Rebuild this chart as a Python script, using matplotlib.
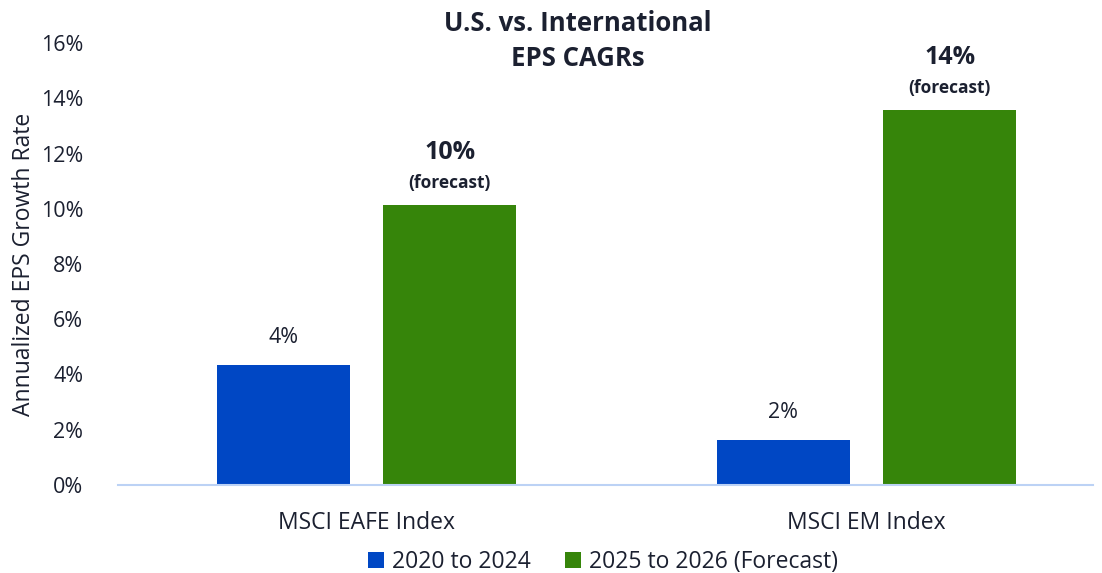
import matplotlib
matplotlib.use("Agg")
import matplotlib.pyplot as plt
import numpy as np

categories = ["MSCI EAFE Index", "MSCI EM Index"]
series_names = ["2020 to 2024", "2025 to 2026 (Forecast)"]
past_values = [4.35, 1.63]
forecast_values = [10.14, 13.58]
past_labels = ["4%", "2%"]
forecast_labels = ["10%", "14%"]
yticks = [0, 2, 4, 6, 8, 10, 12, 14, 16]

plt.rcParams['font.family'] = ['Open Sans', 'DejaVu Sans']
TXT = '#1b2030'
BLUE = '#0047c4'
GREEN = '#36850a'

fig = plt.figure(figsize=(11.02, 5.73), dpi=100)
ax = fig.add_axes([118/1102, 1 - 485/573, (1093-118)/1102, (485-43)/573])

x = np.arange(len(categories))
w = 0.266
off = 0.1665
b1 = ax.bar(x - off, past_values, w, color=BLUE, label=series_names[0])
b2 = ax.bar(x + off, forecast_values, w, color=GREEN, label=series_names[1])

ax.set_ylim(0, 16)
ax.set_xlim(-0.497, 1.453)
ax.set_yticks(yticks)
ax.set_yticklabels([f"{t}%" for t in yticks])
ax.set_xticks(x)
ax.set_xticklabels(categories)
ax.tick_params(axis='y', length=0, pad=25, labelsize=15.5, labelcolor=TXT)
ax.tick_params(axis='x', length=0, pad=19, labelsize=16.5, labelcolor=TXT)
for s in ['top', 'right', 'left']:
    ax.spines[s].set_visible(False)
ax.spines['bottom'].set_color('#bcd2f5')
ax.spines['bottom'].set_linewidth(1.5)

ax.set_ylabel("Annualized EPS Growth Rate", fontsize=16.5, color=TXT)
ax.yaxis.set_label_coords(-82/975, 0.5)

for xi, v, lab in zip(x - off, past_values, past_labels):
    ax.annotate(lab, (xi, v), xytext=(0, 19.5), textcoords='offset points',
                ha='center', va='center', fontsize=15.5, color=TXT)
for xi, v, lab in zip(x + off, forecast_values, forecast_labels):
    ax.annotate(lab, (xi, v), xytext=(0, 38), textcoords='offset points',
                ha='center', va='center', fontsize=18, fontweight='bold', color=TXT)
    ax.annotate("(forecast)", (xi, v), xytext=(0, 16), textcoords='offset points',
                ha='center', va='center', fontsize=12.5, fontweight='bold', color=TXT)

fig.text(578/1102, 1 - 41/573, "U.S. vs. International\nEPS CAGRs", ha='center', va='center',
         fontsize=18.5, fontweight='bold', color=TXT, linespacing=1.4)

leg = fig.legend(handles=[b1, b2], labels=series_names, loc='center',
                 bbox_to_anchor=(603/1102, 1 - 562/573), ncol=2, frameon=False,
                 fontsize=16.5, handlelength=0.7, handleheight=0.7, handletextpad=0.35,
                 columnspacing=1.5, labelcolor=TXT)

fig.savefig("out.png", dpi=100)
